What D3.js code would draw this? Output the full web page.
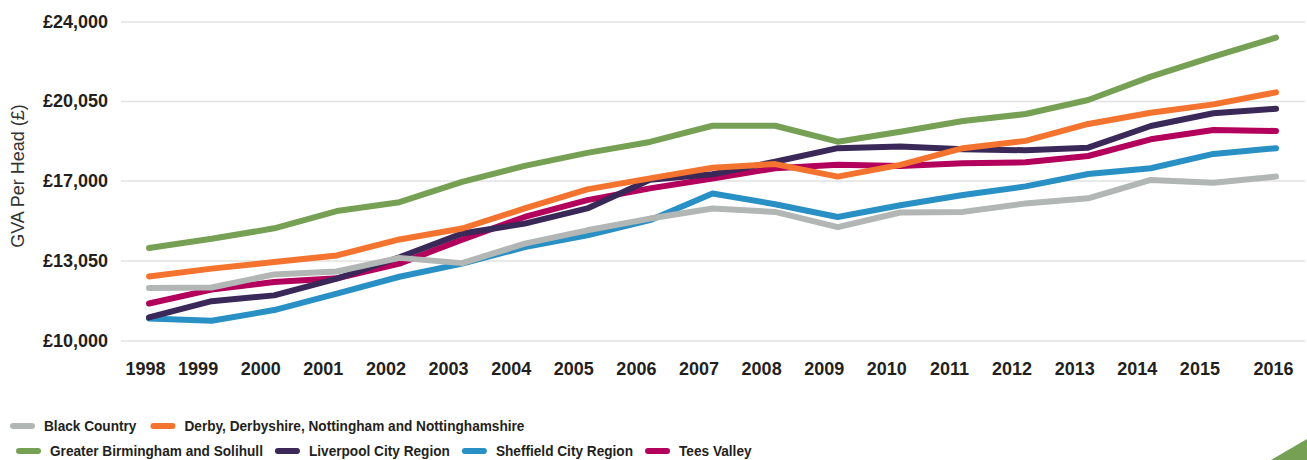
<!DOCTYPE html>
<html>
<head>
<meta charset="utf-8">
<script src="https://cdnjs.cloudflare.com/ajax/libs/d3/7.8.5/d3.min.js"></script>
<style>
  body { margin: 0; background: #fff; }
  svg { display: block; font-family: "Liberation Sans", Arial, sans-serif; }
  .grid line { stroke: #e2e2e2; stroke-width: 1.5; }
  .grid text, .xaxis text { fill: #231f20; font-size: 18px; font-weight: bold; }
  .legend text { fill: #231f20; font-size: 15px; font-weight: bold; }
</style>
</head>
<body>
<svg id="chart" width="1307" height="460"></svg>
<script>
var width = 1307,
    height = 460;

var years = [1998, 1999, 2000, 2001, 2002, 2003, 2004, 2005, 2006, 2007,
             2008, 2009, 2010, 2011, 2012, 2013, 2014, 2015, 2016];

var yTicks = [10000, 13050, 17000, 20050, 24000];

var blackCountry = [12000, 12020, 12520, 12630, 13180, 12950, 13880, 14540, 15120, 15620,
                    15450, 14700, 15420, 15450, 15870, 16120, 17020, 16890, 17150];
var derby = [12440, 12740, 12990, 13300, 14090, 14630, 15620, 16560, 17080, 17490,
             17630, 17150, 17600, 18240, 18520, 19170, 19600, 19920, 20480];
var birmingham = [13670, 14120, 14640, 15490, 15930, 16930, 17560, 18060, 18480, 19100,
                  19100, 18490, 18870, 19280, 19550, 20100, 21260, 22250, 23200];
var liverpool = [10880, 11500, 11720, 12360, 13210, 14380, 14870, 15620, 17030, 17240,
                 17720, 18240, 18300, 18200, 18160, 18260, 19090, 19580, 19750];
var sheffield = [10840, 10750, 11160, 11790, 12430, 12930, 13710, 14290, 15040, 16360,
                 15830, 15200, 15780, 16280, 16710, 17250, 17470, 18020, 18240];
var teesValley = [11410, 11940, 12230, 12370, 12930, 14080, 15200, 16030, 16610, 17080,
                  17470, 17600, 17560, 17660, 17700, 17940, 18580, 18940, 18900];

var legendItems = [
  {name: "Black Country", color: "#b2b6b5"},
  {name: "Derby, Derbyshire, Nottingham and Nottinghamshire", color: "#f4742f"},
  {name: "Greater Birmingham and Solihull", color: "#76a154"},
  {name: "Liverpool City Region", color: "#3a2859"},
  {name: "Sheffield City Region", color: "#2990c5"},
  {name: "Tees Valley", color: "#b3005c"}
];

// drawing order (bottom to top)
var series = [
  {name: "Sheffield City Region", values: sheffield, color: "#2990c5"},
  {name: "Tees Valley", values: teesValley, color: "#b3005c"},
  {name: "Liverpool City Region", values: liverpool, color: "#3a2859"},
  {name: "Black Country", values: blackCountry, color: "#b2b6b5"},
  {name: "Derby, Derbyshire, Nottingham and Nottinghamshire", values: derby, color: "#f4742f"},
  {name: "Greater Birmingham and Solihull", values: birmingham, color: "#76a154"}
];

var svg = d3.select("#chart");

var x = d3.scalePoint()
    .domain(years)
    .range([149, 1276]);

// the printed axis spaces its labels evenly, so map each label to an even step
var y = d3.scaleLinear()
    .domain(yTicks)
    .range([340.5, 260.5, 180.5, 101, 21.5]);

var grid = svg.append("g")
    .attr("class", "grid")
    .attr("transform", "translate(121,0)")
    .call(d3.axisLeft(y)
        .tickValues(yTicks)
        .tickSize(-(1305 - 121))
        .tickPadding(13)
        .tickFormat(function(d) { return "£" + d3.format(",")(d); }));
grid.select(".domain").remove();

var xaxis = svg.append("g")
    .attr("class", "xaxis")
    .attr("transform", "translate(0,340)")
    .call(d3.axisBottom(x).tickSize(0).tickPadding(22).tickFormat(d3.format("d")));
xaxis.select(".domain").remove();
xaxis.selectAll("text")
    .attr("dx", function(d, i) {
      if (i == 0) return -4;
      if (i == years.length - 1) return -3;
      return -14;
    });

svg.append("text")
    .attr("transform", "translate(24,176) rotate(-90)")
    .attr("text-anchor", "middle")
    .style("font-size", "18px")
    .style("fill", "#333")
    .text("GVA Per Head (£)");

var line = d3.line()
    .x(function(d, i) { return x(years[i]); })
    .y(function(d) { return y(d); });

svg.append("g")
    .selectAll("path")
    .data(series)
    .enter()
    .append("path")
    .attr("d", function(d) { return line(d.values); })
    .attr("fill", "none")
    .attr("stroke", function(d) { return d.color; })
    .attr("stroke-width", 6)
    .attr("stroke-linecap", "round")
    .attr("stroke-linejoin", "round");

// legend: two rows, text squeezed to look like the condensed print font
var rows = [[0, 1], [2, 3, 4, 5]];
var rowStart = [10, 16],
    rowY = [426, 451],
    rowGap = [14, 12],
    squeeze = 0.91;

var legend = svg.append("g").attr("class", "legend");
rows.forEach(function(row, r) {
  var cx = rowStart[r];
  row.forEach(function(k) {
    var item = legendItems[k];
    legend.append("rect")
        .attr("x", cx)
        .attr("y", rowY[r] - 3)
        .attr("width", 25)
        .attr("height", 6)
        .attr("rx", 3)
        .attr("fill", item.color);
    var t = legend.append("text")
        .attr("transform", "translate(" + (cx + 34) + "," + rowY[r] + ") scale(" + squeeze + ",1)")
        .attr("dy", "0.35em")
        .text(item.name);
    cx = cx + 34 + t.node().getComputedTextLength() * squeeze + rowGap[r];
  });
});

svg.append("polygon")
    .attr("points", "1271,460 1307,439 1307,460")
    .attr("fill", "#76a154");
</script>
</body>
</html>
